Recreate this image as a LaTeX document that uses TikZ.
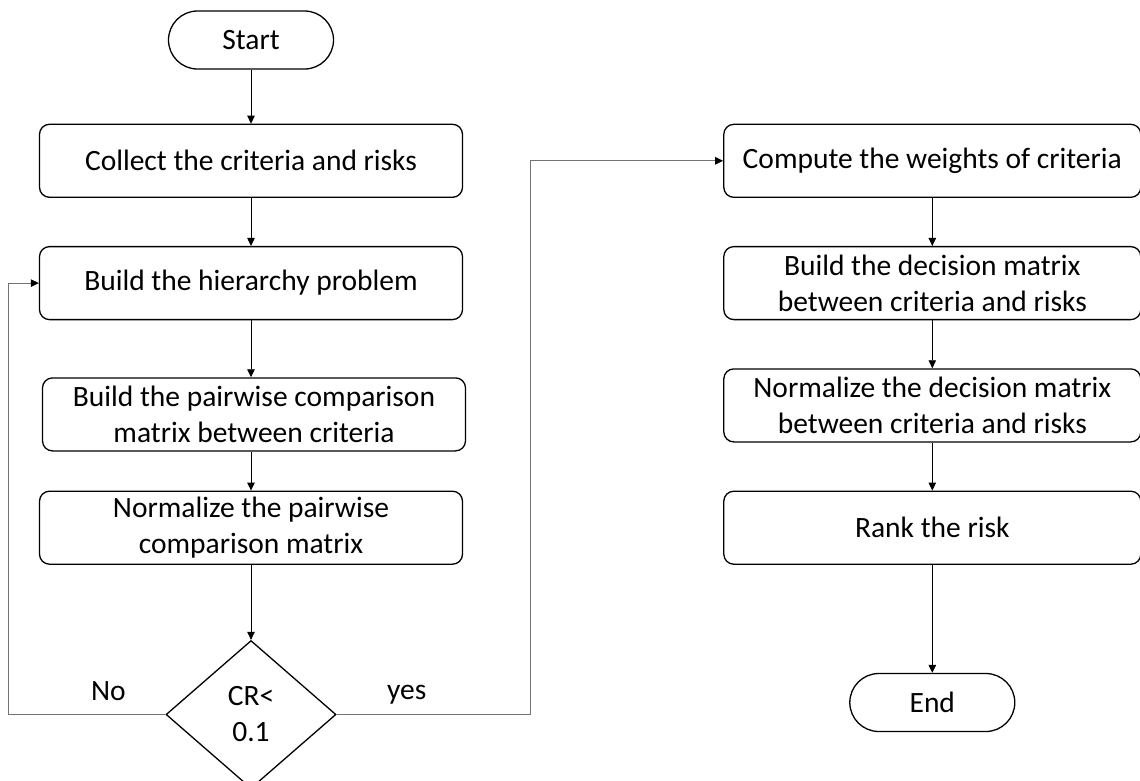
\documentclass[tikz,border=0pt]{standalone}
\usepackage{fontspec}
\setmainfont{Carlito}
\usetikzlibrary{arrows.meta}
\usetikzlibrary{positioning}
\usetikzlibrary{shapes.geometric}

\tikzset{
  process/.style={draw, rounded corners=10pt, line width=1.3pt,
    minimum width=423pt, minimum height=73pt, inner sep=0pt, align=center},
  rprocess/.style={process, minimum width=417pt},
  terminal/.style={draw, rounded corners=29pt, line width=1.3pt,
    minimum width=165pt, minimum height=58pt, inner sep=0pt},
  decision/.style={draw, diamond, line width=1.3pt, minimum width=170pt,
    minimum height=148pt, inner sep=0pt, align=center},
  flow/.style={-{Triangle[length=8pt,width=7.5pt]}, line width=0.9pt},
  loopback/.style={-{Triangle[length=8pt,width=7.5pt,color=black]},
    line width=1pt, draw=black!55},
}

\begin{document}
\begin{tikzpicture}[x=1pt, y=-1pt, font=\fontsize{29.5}{36}\selectfont]
  \useasboundingbox (0,0) rectangle (1140,780);

  % left column
  \node[terminal] (start) at (251,40) {Start};
  \node[process, below=54pt of start] (collect) {Collect the criteria and risks};
  \node[process, below=48pt of collect] (hier) {Build the hierarchy problem};
  \node[process, below=57pt of hier, xshift=3pt] (pair)
    {Build the pairwise comparison\\matrix between criteria};
  \node[process, below=39pt of pair, xshift=-3pt] (normpair)
    {Normalize the pairwise\\comparison matrix};
  \node[decision, below=75pt of normpair] (dec) {CR<\\0.1};
  \node (nolbl) at ([xshift=-57pt, yshift=23pt]dec.west) {No};
  \node (yeslbl) at ([xshift=70pt, yshift=20pt]dec.east) {yes};

  % right column
  \node[rprocess, right=260pt of collect] (weights) {Compute the weights of criteria};
  \node[rprocess, below=48pt of weights] (decmat)
    {Build the decision matrix\\between criteria and risks};
  \node[rprocess, below=48pt of decmat] (normdec)
    {Normalize the decision matrix\\between criteria and risks};
  \node[rprocess, below=48pt of normdec] (rank) {Rank the risk};
  \node[terminal, below=108pt of rank] (end) {End};

  \draw[flow] (start) -- (collect);
  \draw[flow] (collect) -- (hier);
  \draw[flow] (hier) -- (hier |- pair.north);
  \draw[flow] (pair.south -| hier) -- (normpair);
  \draw[flow] (normpair) -- (dec);
  \draw[loopback] (dec.west) -| ([xshift=-30pt]hier.west) -- (hier.west);
  \draw[loopback] (dec.east) -| ([xshift=-193pt]weights.west) -- (weights.west);

  \draw[flow] (weights) -- (decmat);
  \draw[flow] (decmat) -- (normdec);
  \draw[flow] (normdec) -- (rank);
  \draw[flow] (rank) -- (end);
\end{tikzpicture}
\end{document}
